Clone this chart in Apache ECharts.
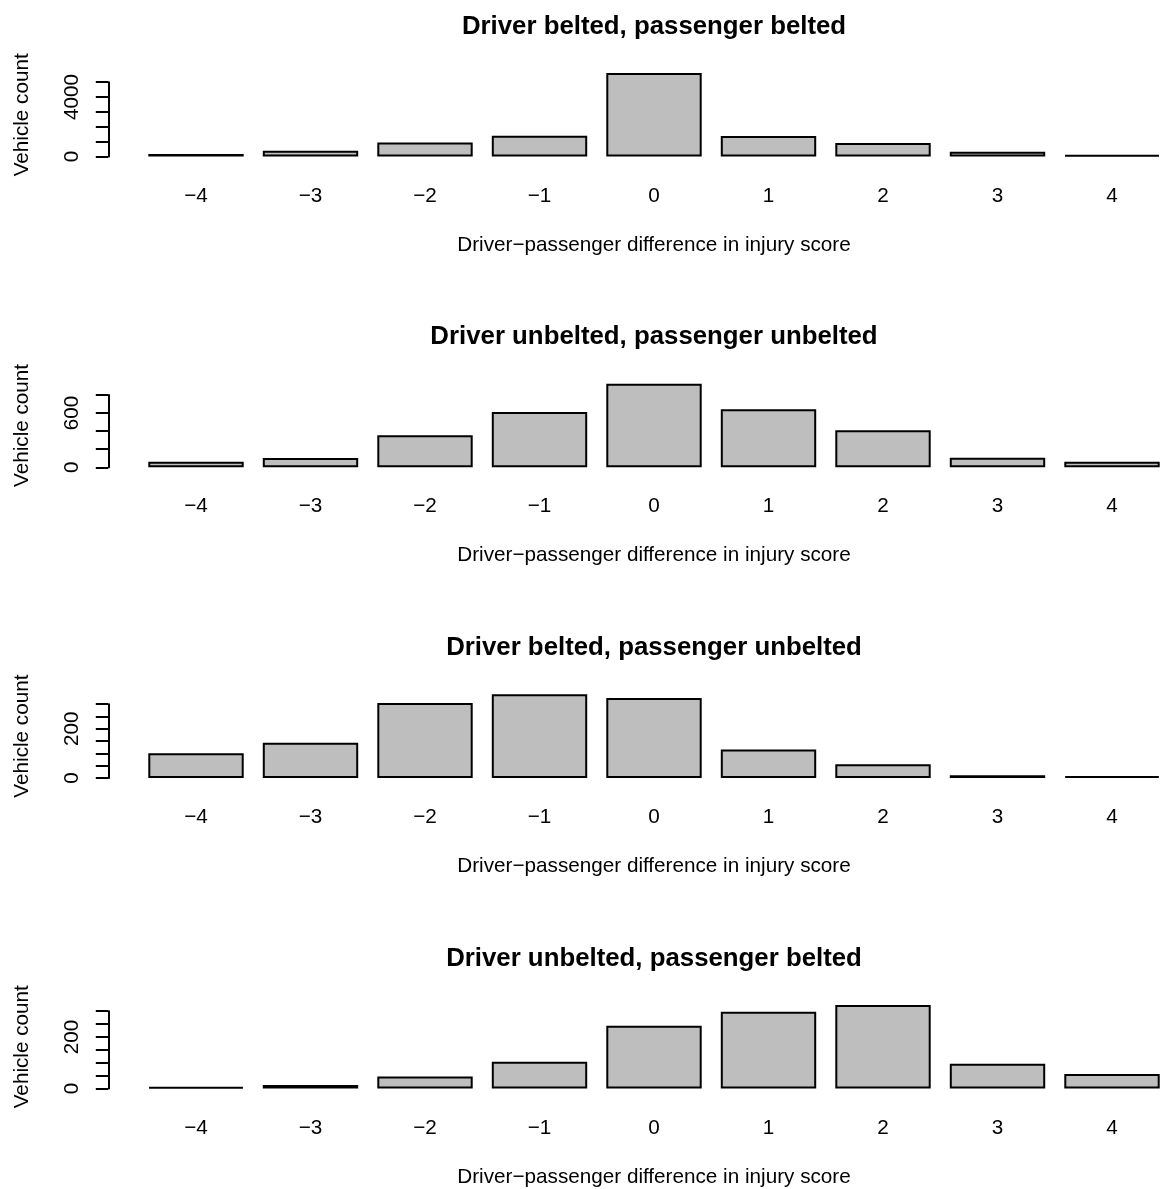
<!DOCTYPE html>
<html>
<head>
<meta charset="utf-8">
<title>Driver-passenger injury score difference</title>
<script src="https://cdn.jsdelivr.net/npm/echarts@6/dist/echarts.min.js"></script>
<style>
  html, body { margin: 0; padding: 0; background: #fff; overflow: hidden; }
  /* the R figure runs past the right edge, so the canvas is a bit wider than the window */
  #chart { width: 1180px; height: 1189px; }
</style>
</head>
<body>
<div id="chart"></div>
<script>
// difference in injury score (driver - passenger)
const diffLabels = ['−4', '−3', '−2', '−1', '0', '1', '2', '3', '4']

// vehicle counts, one array per seat-belt combination
const bothBelted = [180, 390, 950, 1400, 5620, 1380, 910, 320, 100]
const bothUnbelted = [62, 103, 354, 612, 925, 641, 409, 106, 60]
const driverBeltedOnly = [100, 143, 305, 340, 325, 115, 55, 11, 7]
const passengerBeltedOnly = [6, 14, 47, 104, 243, 298, 324, 96, 56]

const panelTitles = [
  'Driver belted, passenger belted',
  'Driver unbelted, passenger unbelted',
  'Driver belted, passenger unbelted',
  'Driver unbelted, passenger belted'
]
const panelValues = [bothBelted, bothUnbelted, driverBeltedOnly, passengerBeltedOnly]

// y ticks
const yTickMax = [5000, 800, 300, 300]
const yTickStep = [1000, 200, 50, 50]
const yTickLabels = [[0, 4000], [0, 600], [0, 200], [0, 200]]

const xTitle = 'Driver−passenger difference in injury score'
const yTitle = 'Vehicle count'

// layout (R-like: plot region ~90px high, ylim padded 4% each side)
const FONT = '"Liberation Sans", Arial, Helvetica, sans-serif'
const PLOT_H = 90.3
const BASE0 = 156.6
const STEP = 310.65
const GRID_LEFT = 138.75
const GRID_W = 1030.5
const LW = 2

const chart = echarts.init(document.getElementById('chart'))

const grids = [], xAxes = [], yAxes = [], series = [], titles = [], graphics = []

panelValues.forEach((vals, i) => {
  const base = BASE0 + STEP * i
  const maxV = Math.max(...vals)
  const pxPerUnit = PLOT_H / (1.08 * maxV)
  const h = yTickMax[i] * pxPerUnit

  grids.push({ left: GRID_LEFT, top: base - h, width: GRID_W, height: h })

  xAxes.push({
    gridIndex: i,
    type: 'category',
    data: diffLabels,
    axisLine: { show: false },
    axisTick: { show: false },
    axisLabel: { interval: 0, margin: 29, fontSize: 20.7, color: '#000', fontFamily: FONT },
    name: xTitle,
    nameLocation: 'middle',
    nameGap: 78,
    nameTextStyle: { fontSize: 20.7, color: '#000', fontFamily: FONT }
  })

  yAxes.push({
    gridIndex: i,
    type: 'value',
    min: 0,
    max: yTickMax[i],
    interval: yTickStep[i],
    offset: GRID_LEFT - 108.3,
    axisLine: { show: true, lineStyle: { color: '#000', width: LW } },
    axisTick: { show: true, length: 12.5, lineStyle: { color: '#000', width: LW } },
    splitLine: { show: false },
    axisLabel: {
      rotate: 90,
      margin: 26,
      fontSize: 20.7,
      color: '#000',
      fontFamily: FONT,
      formatter: v => yTickLabels[i].includes(v) ? String(v) : ''
    }
  })

  series.push({
    type: 'bar',
    xAxisIndex: i,
    yAxisIndex: i,
    data: vals,
    clip: false,
    barCategoryGap: '16.67%',
    itemStyle: { color: '#bebebe', borderColor: '#000', borderWidth: LW },
    emphasis: { disabled: true }
  })

  titles.push({
    text: panelTitles[i],
    left: 654,
    top: base - 143,
    padding: 0,
    textAlign: 'center',
    textStyle: { fontSize: 25.8, fontWeight: 'bold', color: '#000', fontFamily: FONT }
  })

  graphics.push({
    type: 'text',
    x: 22.5,
    y: base - 41.8,
    rotation: Math.PI / 2,
    style: {
      text: yTitle,
      fill: '#000',
      font: '20.7px ' + FONT,
      align: 'center',
      verticalAlign: 'middle'
    }
  })
})

chart.setOption({
  animation: false,
  backgroundColor: '#fff',
  title: titles,
  grid: grids,
  xAxis: xAxes,
  yAxis: yAxes,
  series: series,
  graphic: graphics
})
</script>
</body>
</html>
